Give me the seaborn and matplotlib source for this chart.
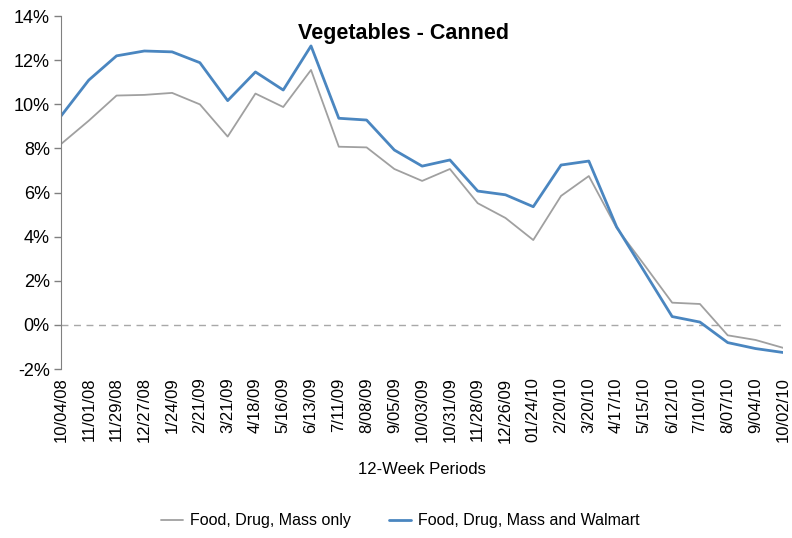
import pandas as pd
import matplotlib.pyplot as plt
import seaborn as sns

periods = ["10/04/08", "11/01/08", "11/29/08", "12/27/08", "1/24/09", "2/21/09",
           "3/21/09", "4/18/09", "5/16/09", "6/13/09", "7/11/09", "8/08/09",
           "9/05/09", "10/03/09", "10/31/09", "11/28/09", "12/26/09", "01/24/10",
           "2/20/10", "3/20/10", "4/17/10", "5/15/10", "6/12/10", "7/10/10",
           "8/07/10", "9/04/10", "10/02/10"]

fdm_only = [8.2, 9.26, 10.4, 10.43, 10.52, 10.0, 8.54, 10.49, 9.88, 11.56,
            8.08, 8.05, 7.07, 6.53, 7.07, 5.52, 4.85, 3.85, 5.85, 6.75,
            4.4, 2.72, 1.01, 0.95, -0.47, -0.68, -1.04]

fdm_walmart = [9.47, 11.1, 12.2, 12.42, 12.38, 11.89, 10.17, 11.47, 10.65, 12.65,
               9.37, 9.29, 7.93, 7.2, 7.48, 6.07, 5.9, 5.36, 7.25, 7.43,
               4.45, 2.42, 0.38, 0.13, -0.8, -1.07, -1.25]

series_names = ["Food, Drug, Mass only", "Food, Drug, Mass and Walmart"]

# long-form table for seaborn
df = pd.DataFrame({
    "idx": list(range(len(periods))) * 2,
    "value": fdm_only + fdm_walmart,
    "series": [series_names[0]] * len(periods) + [series_names[1]] * len(periods),
})

sns.set_style("white")
plt.rcParams["font.family"] = ["Liberation Sans", "DejaVu Sans"]
plt.rcParams["text.color"] = "black"
plt.rcParams["xtick.color"] = "black"
plt.rcParams["ytick.color"] = "black"
plt.rcParams["axes.labelcolor"] = "black"

fig = plt.figure(figsize=(7.92, 5.38), dpi=100)
ax = fig.add_axes([0.077, 0.314, 0.912, 0.656])

palette = {series_names[0]: "#a0a0a0", series_names[1]: "#4a86c0"}
sns.lineplot(data=df, x="idx", y="value", hue="series", palette=palette,
             ax=ax, legend=False)
ax.lines[0].set_linewidth(1.3)
ax.lines[1].set_linewidth(2.0)

ax.axhline(0, color="#a8a8a8", linestyle=(0, (5, 4)), linewidth=1.0, zorder=0)

ax.set_xlim(0, len(periods) - 1)
ax.set_ylim(-2, 14)
ax.set_xticks(range(len(periods)))
ax.set_xticklabels(periods, rotation=90, fontsize=12)
ax.set_yticks(range(-2, 15, 2))
ax.set_yticklabels([f"{v}%" for v in range(-2, 15, 2)], fontsize=13)
ax.tick_params(axis="y", left=True, direction="out", length=5,
               color="#808080", width=1, pad=3)
ax.tick_params(axis="x", length=0, pad=6)

for s in ["top", "right", "bottom"]:
    ax.spines[s].set_visible(False)
ax.spines["left"].set_color("#808080")

ax.set_xlabel("12-Week Periods", fontsize=12, labelpad=14)
ax.set_ylabel("")
fig.text(0.51, 0.958, "Vegetables - Canned", ha="center", va="top",
         fontsize=15.5, fontweight="bold")

handles = [plt.Line2D([], [], color="#a0a0a0", lw=1.3),
           plt.Line2D([], [], color="#4a86c0", lw=2.0)]
fig.legend(handles, series_names, loc="center", bbox_to_anchor=(0.505, 0.032),
           ncol=2, frameon=False, fontsize=11.5, handlelength=1.4,
           columnspacing=2.4, handletextpad=0.4)

fig.savefig("out.png", dpi=100)
